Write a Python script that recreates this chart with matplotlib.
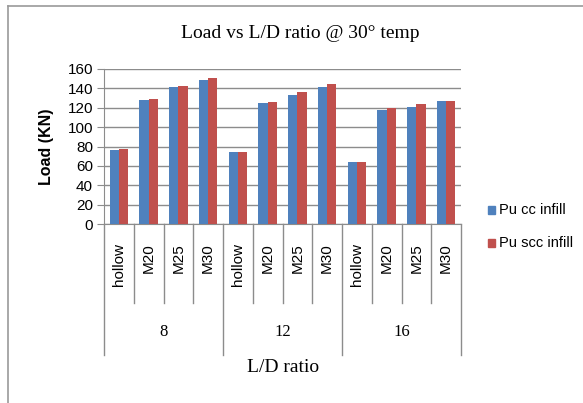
import numpy as np
import matplotlib.pyplot as plt
from matplotlib.lines import Line2D
from matplotlib.patches import Rectangle

# cargas por relação L/D e tipo de enchimento
ld_groups = ["8", "12", "16"]
infills = ["hollow", "M20", "M25", "M30"]
pu_cc = [76.5, 128, 141.5, 148.5, 74.5, 124.5, 133, 141, 64.5, 117.5, 121, 126.5]
pu_scc = [77, 129.5, 142.5, 150.5, 74.5, 125.5, 136, 145, 64.5, 119.5, 123.5, 126.5]
yticks = [0, 20, 40, 60, 80, 100, 120, 140, 160]

blue = "#4F81BD"
red = "#C0504D"
sans = "Liberation Sans"
serif = "Liberation Serif"

fig = plt.figure(figsize=(5.83, 4.03), dpi=100)
ax = fig.add_axes([104/583, 1 - 224/403, 357/583, 155/403])

n = len(pu_cc)
x = np.arange(n)
w = 0.31
ax.bar(x - w/2, pu_cc, w, color=blue, zorder=3)
ax.bar(x + w/2, pu_scc, w, color=red, zorder=3)

ax.set_xlim(-0.5, n - 0.5)
ax.set_ylim(0, 160)
ax.set_yticks(yticks)
ax.yaxis.grid(True, color="#8c8c8c", linewidth=1.0, zorder=0)
ax.tick_params(axis="y", direction="out", length=5, color="#8c8c8c",
               labelsize=11, pad=3)
for lab in ax.get_yticklabels():
    lab.set_fontfamily(sans)

ax.set_xticks(x)
ax.set_xticklabels(infills * len(ld_groups), rotation=90, fontsize=11,
                   fontfamily=sans, va="top")
ax.tick_params(axis="x", length=0, pad=14)

for s in ["top", "right"]:
    ax.spines[s].set_visible(False)
ax.spines["left"].set_color("#8c8c8c")
ax.spines["bottom"].set_color("#8c8c8c")

# divisórias das categorias abaixo do eixo
trans = ax.get_xaxis_transform()
for i in range(n + 1):
    xe = i - 0.5
    low = -0.845 if i % 4 == 0 else -0.51
    ax.add_line(Line2D([xe, xe], [0, low], transform=trans, color="#8c8c8c",
                       linewidth=1.0, clip_on=False))
for g, name in enumerate(ld_groups):
    ax.text(g*4 + 1.5, -0.70, name, transform=trans, ha="center", va="center",
            fontsize=12, fontfamily=serif)

ax.set_ylabel("Load (KN)", fontsize=11.5, fontweight="bold", fontfamily=sans,
              labelpad=10)
fig.text(283/583, 1 - 368/403, "L/D ratio", ha="center", va="center",
         fontsize=14, fontfamily=serif)
fig.text(300/583, 1 - 33/403, "Load vs L/D ratio @ 30\u00b0 temp", ha="center",
         va="center", fontsize=14, fontfamily=serif)

# legenda
for yy, col, txt in [(210, blue, "Pu cc infill"), (243, red, "Pu scc infill")]:
    fig.patches.append(Rectangle((488/583, 1 - (yy + 4)/403), 7/583, 8/403,
                                 transform=fig.transFigure, color=col))
    fig.text(499/583, 1 - yy/403, txt, ha="left", va="center", fontsize=10.5,
             fontfamily=sans)

# moldura
fig.add_artist(Line2D([8/583, 1], [1 - 6/403, 1 - 6/403], color="#9a9a9a",
                      linewidth=1.2, transform=fig.transFigure))
fig.add_artist(Line2D([8/583, 8/583], [0, 1 - 6/403], color="#9a9a9a",
                      linewidth=1.2, transform=fig.transFigure))

fig.savefig("out.png", dpi=100)
